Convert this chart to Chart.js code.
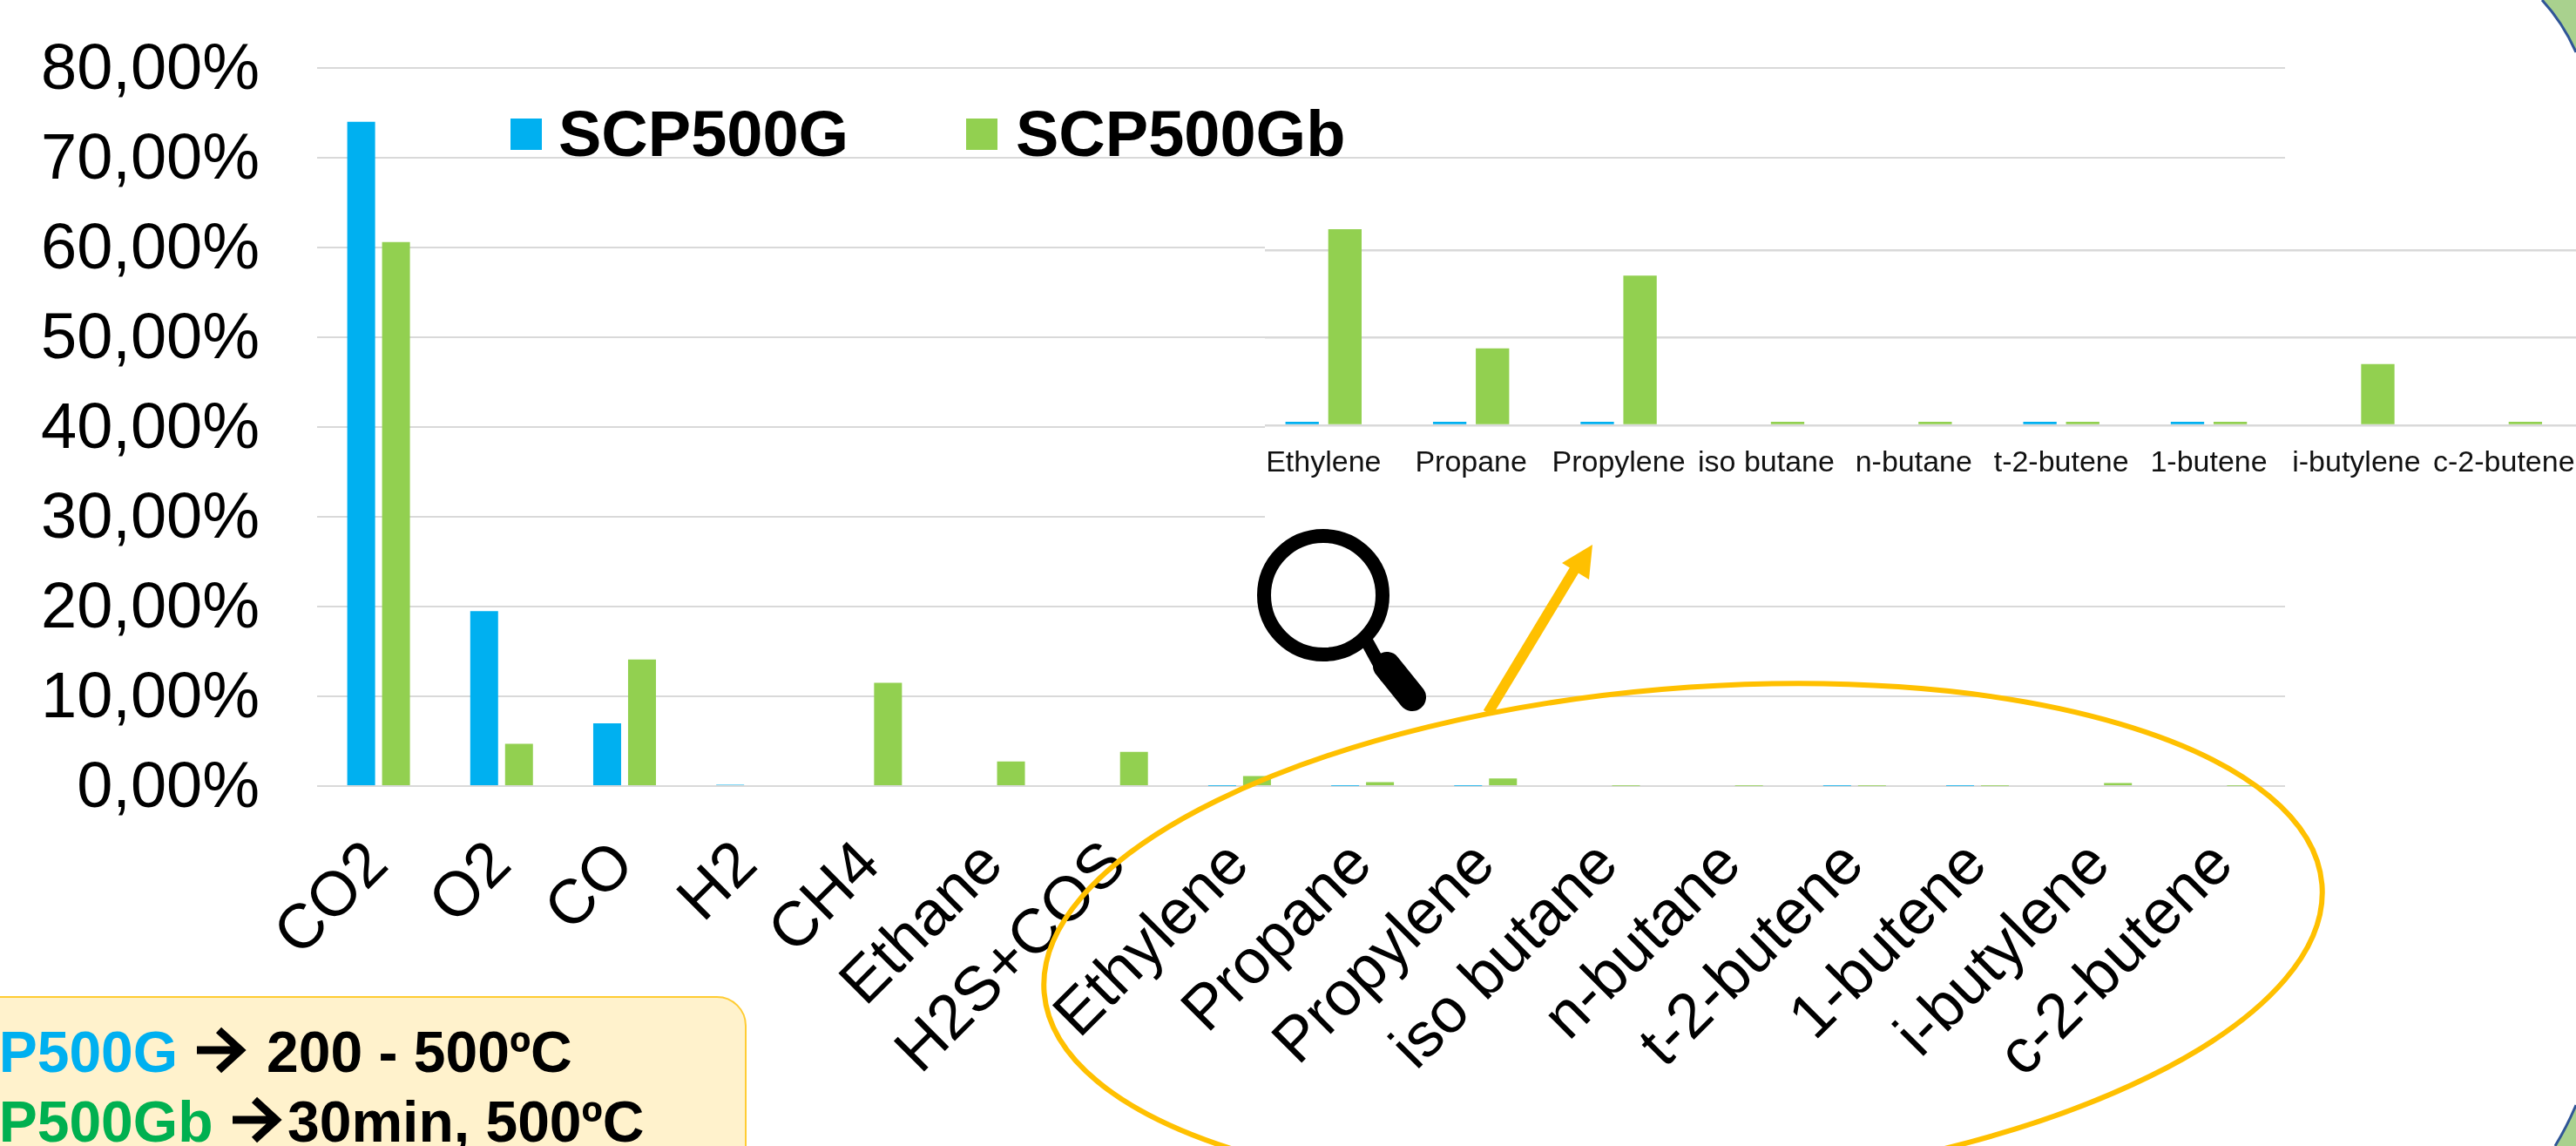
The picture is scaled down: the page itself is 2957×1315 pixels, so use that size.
<!DOCTYPE html>
<html>
<head>
<meta charset="utf-8">
<title>SCP500G / SCP500Gb</title>
<script src="https://cdn.jsdelivr.net/npm/chart.js@4"></script>
<style>
    html, body { margin: 0; padding: 0; background: #fff; }
    #page { position: relative; width: 2957px; height: 1315px; overflow: hidden; background: #fff; }
    #mainChart { position: absolute; left: 0; top: 0; }
    #insetChart { position: absolute; left: 1400px; top: 190px; background: #fff; clip-path: inset(0 0 0 52px); }
    #overlay { position: absolute; left: 0; top: 0; font-family: "Liberation Sans", Arial, sans-serif; }
</style>
</head>
<body>
<div id="page">
    <canvas id="mainChart" width="2957" height="1315"></canvas>
    <canvas id="insetChart" width="1559" height="450"></canvas>
    <svg id="overlay" width="2957" height="1315" viewBox="0 0 2957 1315">
        <!-- corner shapes -->
        <path d="M2918,0 Q2942,26 2957,60 L2957,0 Z" fill="#a9d18e"/>
        <path d="M2918,0 Q2942,26 2957,60" fill="none" stroke="#2f5597" stroke-width="3"/>
        <path d="M2933,1315 Q2947,1292 2957,1268 L2957,1315 Z" fill="#a9d18e"/>
        <path d="M2933,1315 Q2947,1292 2957,1268" fill="none" stroke="#2f5597" stroke-width="3"/>

        <!-- legend -->
        <rect x="586" y="136" width="36" height="36" fill="#00b0f0"/>
        <text id="legendA" x="641" y="179" font-size="74" font-weight="bold" fill="#000"></text>
        <rect x="1109" y="136" width="36" height="36" fill="#92d050"/>
        <text id="legendB" x="1166" y="179" font-size="74" font-weight="bold" fill="#000"></text>

        <!-- ellipse round the small species + arrow to the zoomed chart -->
        <ellipse cx="1932" cy="1077" rx="736" ry="287" transform="rotate(-4.87 1932 1077)" fill="none" stroke="#ffc000" stroke-width="6"/>
        <line x1="1708" y1="818" x2="1812" y2="646" stroke="#ffc000" stroke-width="12"/>
        <polygon points="1828,625 1824,665 1793,646" fill="#ffc000"/>

        <!-- magnifier -->
        <circle cx="1519" cy="683" r="68" fill="none" stroke="#000" stroke-width="16"/>
        <line x1="1569" y1="736" x2="1592" y2="778" stroke="#000" stroke-width="15"/>
        <line x1="1592" y1="764" x2="1621" y2="800" stroke="#000" stroke-width="32" stroke-linecap="round"/>

        <!-- conditions box -->
        <rect x="-60" y="1144" width="916" height="260" rx="33" ry="33" fill="#fff2cc" stroke="#ffcc33" stroke-width="2"/>
        <text x="-93" y="1230" font-size="66" font-weight="bold" fill="#00b0f0">SCP500G</text>
        <path d="M226,1205 H274 M251,1182 L276,1205 L251,1228" fill="none" stroke="#000" stroke-width="9"/>
        <text x="306" y="1230" font-size="66" font-weight="bold" fill="#000">200 - 500ºC</text>
        <text x="-93" y="1310" font-size="66" font-weight="bold" fill="#00b050">SCP500Gb</text>
        <path d="M267,1285 H315 M292,1262 L317,1285 L292,1308" fill="none" stroke="#000" stroke-width="9"/>
        <text x="330" y="1310" font-size="66" font-weight="bold" fill="#000">30min, 500ºC</text>
    </svg>
</div>

<script>
// Chart data (%)
const categories = ['CO2', 'O2', 'CO', 'H2', 'CH4', 'Ethane', 'H2S+COS', 'Ethylene', 'Propane', 'Propylene',
    'iso butane', 'n-butane', 't-2-butene', '1-butene', 'i-butylene', 'c-2-butene'];
const scp500g = [74, 19.5, 7, 0.15, 0, 0, 0, 0.02, 0.02, 0.02, 0, 0, 0.02, 0.02, 0, 0];
const scp500gb = [60.6, 4.7, 14.1, 0, 11.5, 2.75, 3.8, 1.12, 0.44, 0.855, 0.02, 0.02, 0.02, 0.02, 0.35, 0.02];
const seriesNames = ['SCP500G', 'SCP500Gb'];
const yTickLabels = ['0,00%', '10,00%', '20,00%', '30,00%', '40,00%', '50,00%', '60,00%', '70,00%', '80,00%'];

// The zoomed part starts at Ethylene
const insetStart = categories.indexOf('Ethylene');

const blue = '#00b0f0';
const green = '#92d050';
const gridColor = '#d9d9d9';
const fontFamily = '"Liberation Sans", Arial, sans-serif';

document.getElementById('legendA').textContent = seriesNames[0];
document.getElementById('legendB').textContent = seriesNames[1];

Chart.defaults.animation = false;
Chart.defaults.responsive = false;

// Fix the axis box so tick labels don't push the plot area around
function fixAxis(size, isHeight) {
    return function(scale) {
        if (isHeight) scale.height = size; else scale.width = size;
        scale.paddingTop = scale.paddingBottom = scale.paddingLeft = scale.paddingRight = 0;
    };
}

new Chart(document.getElementById('mainChart'), {
    type: 'bar',
    data: {
        labels: categories,
        datasets: [
            { label: seriesNames[0], data: scp500g, backgroundColor: blue },
            { label: seriesNames[1], data: scp500gb, backgroundColor: green }
        ]
    },
    options: {
        layout: { padding: { top: 78, right: 334, left: 0, bottom: 0 } },
        plugins: { legend: { display: false }, tooltip: { enabled: false } },
        datasets: { bar: { barPercentage: 0.8, categoryPercentage: 0.5666 } },
        scales: {
            x: {
                grid: { display: false },
                border: { display: false },
                afterFit: fixAxis(413, true),
                ticks: {
                    autoSkip: false,
                    minRotation: 45,
                    maxRotation: 45,
                    padding: 40,
                    color: '#000',
                    font: { family: fontFamily, size: 72 }
                }
            },
            y: {
                min: 0,
                max: 80,
                grid: { color: gridColor, lineWidth: 2, drawTicks: false },
                border: { display: false },
                afterFit: fixAxis(364, false),
                ticks: {
                    stepSize: 10,
                    padding: 66,
                    labelOffset: 4,
                    color: '#000',
                    font: { family: fontFamily, size: 74 },
                    callback: function(value, index) { return yTickLabels[index]; }
                }
            }
        }
    }
});

new Chart(document.getElementById('insetChart'), {
    type: 'bar',
    data: {
        labels: categories.slice(insetStart),
        datasets: [
            { label: seriesNames[0], data: scp500g.slice(insetStart), backgroundColor: blue },
            { label: seriesNames[1], data: scp500gb.slice(insetStart), backgroundColor: green }
        ]
    },
    options: {
        layout: { padding: { top: 57, right: 0, left: 0, bottom: 0 } },
        plugins: { legend: { display: false }, tooltip: { enabled: false } },
        datasets: { bar: { barPercentage: 0.78, categoryPercentage: 0.58 } },
        scales: {
            x: {
                grid: { display: false },
                border: { display: false },
                afterFit: fixAxis(152, true),
                ticks: {
                    autoSkip: false,
                    maxRotation: 0,
                    padding: 15,
                    color: '#111',
                    font: { family: fontFamily, size: 34 }
                }
            },
            y: {
                min: 0,
                max: 1.2,
                grid: { color: gridColor, lineWidth: 2.5, drawTicks: false },
                border: { display: false },
                afterFit: fixAxis(34.6, false),
                afterBuildTicks: function(scale) { scale.ticks = scale.ticks.filter(t => t.value <= 1); },
                ticks: { stepSize: 0.5, display: false }
            }
        }
    }
});
</script>
</body>
</html>
